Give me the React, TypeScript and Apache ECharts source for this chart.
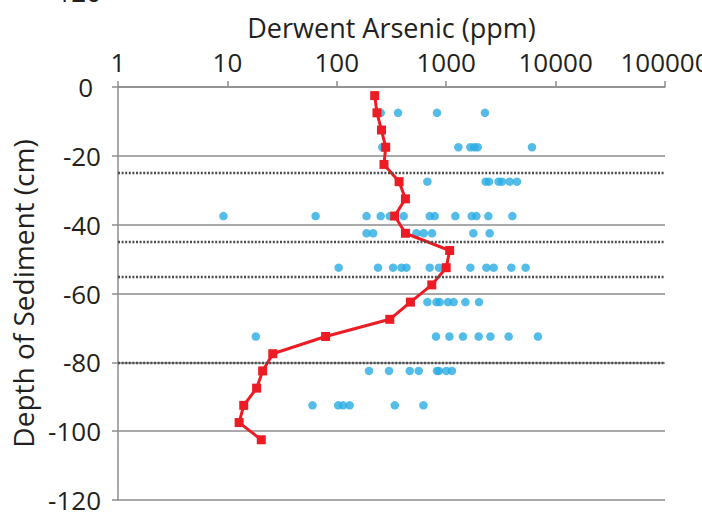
import React, { useEffect, useRef } from "react";
import * as echarts from "echarts";

// Depth-averaged arsenic profile (red line), one value every 5 cm
const profileDepths = [
  -2.5, -7.5, -12.5, -17.5, -22.5, -27.5, -32.5, -37.5, -42.5, -47.5, -52.5,
  -57.5, -62.5, -67.5, -72.5, -77.5, -82.5, -87.5, -92.5, -97.5, -102.5,
];
const profileArsenic = [
  222, 233, 256, 280, 270, 371, 424, 338, 424, 1076, 1000, 738, 471, 305, 79,
  26, 21, 18.5, 14.1, 12.8, 20.4,
];

// Individual core samples (blue dots), grouped by depth
const sampleDepths = [-7.5, -17.5, -27.5, -37.5, -42.5, -52.5, -62.5, -72.5, -82.5, -92.5];
const samplesAt7 = [252, 363, 824, 2261];
const samplesAt17 = [261, 1292, 1663, 1808, 1940, 6081];
const samplesAt27 = [673, 2296, 2461, 3016, 3236, 3802, 4435];
const samplesAt37 = [9.2, 64, 187, 252, 305, 409, 707, 785, 1213, 1710, 1888, 2428, 4024];
const samplesAt42 = [187, 215, 534, 623, 742, 1771, 2495];
const samplesAt52 = [104, 238, 327, 390, 433, 707, 859, 1663, 2329, 2716, 3939, 5322];
const samplesAt62 = [673, 814, 872, 1038, 1170, 1497, 1994];
const samplesAt72 = [18.2, 807, 1070, 1423, 1980, 2535, 3722, 6893];
const samplesAt82 = [197, 300, 464, 561, 824, 859, 1004, 1129];
const samplesAt92 = [60, 103, 114, 131, 339, 619];
const sampleRows = [
  samplesAt7, samplesAt17, samplesAt27, samplesAt37, samplesAt42,
  samplesAt52, samplesAt62, samplesAt72, samplesAt82, samplesAt92,
];

// Stratigraphic boundaries (dotted lines)
const boundaryDepths = [-25, -45, -55, -80];

const FONT = '"Open Sans", "Noto Sans", sans-serif';
const TEXT = "#231f20";
const GRID = "#8c8c8c";

export default function App() {
  const ref = useRef<HTMLDivElement>(null);

  useEffect(() => {
    if (!ref.current) return;
    const chart = echarts.init(ref.current, null, { renderer: "svg" });

    const samplePoints = sampleDepths.flatMap((d, i) => sampleRows[i].map((v) => [v, d]));
    const profilePoints = profileDepths.map((d, i) => [profileArsenic[i], d]);

    chart.setOption({
      animation: false,
      textStyle: { fontFamily: FONT },
      grid: { left: 118, right: 37, top: 87, bottom: 15, outerBoundsMode: "none" },
      graphic: [
        {
          type: "text",
          x: 101,
          y: 5,
          style: {
            text: "-120",
            fontFamily: FONT,
            fontSize: 26,
            fill: TEXT,
            textAlign: "right",
            textVerticalAlign: "bottom",
          },
        },
      ],
      xAxis: {
        type: "log",
        logBase: 10,
        min: 1,
        max: 100000,
        position: "top",
        name: "Derwent Arsenic (ppm)",
        nameLocation: "middle",
        nameGap: 46,
        nameTextStyle: { fontSize: 27, color: TEXT, fontFamily: FONT },
        axisLine: { lineStyle: { color: GRID, width: 1.5 } },
        axisTick: { length: 6, lineStyle: { color: GRID, width: 1.5 } },
        axisLabel: {
          fontSize: 26,
          color: TEXT,
          fontFamily: FONT,
          margin: 12,
          formatter: (v: number) => String(Math.round(v)),
        },
        splitLine: { show: false },
        minorTick: { show: false },
      },
      yAxis: {
        type: "value",
        min: -120,
        max: 0,
        interval: 20,
        name: "Depth of Sediment (cm)",
        nameLocation: "middle",
        nameGap: 80,
        nameTextStyle: { fontSize: 28, color: TEXT, fontFamily: FONT },
        axisLine: { show: true, lineStyle: { color: GRID, width: 1.5 } },
        axisTick: { show: true, length: 6, lineStyle: { color: GRID, width: 1.5 } },
        axisLabel: {
          fontSize: 26,
          color: TEXT,
          fontFamily: FONT,
          margin: 17,
          formatter: (v: number) => (v === 0 ? "{zero|0}" : String(v)),
          rich: {
            zero: { fontSize: 26, color: TEXT, fontFamily: FONT, padding: [0, 8, 0, 0] },
          },
        },
        splitLine: { show: true, lineStyle: { color: GRID, width: 1.5 } },
      },
      series: [
        {
          type: "scatter",
          data: samplePoints,
          symbol: "circle",
          symbolSize: 8.5,
          itemStyle: { color: "#29abe2" },
          z: 3,
          markLine: {
            silent: true,
            symbol: ["none", "none"],
            label: { show: false },
            lineStyle: { type: [2, 1.6], color: "#4d4d4d", width: 2.3 },
            data: boundaryDepths.map((d) => ({ yAxis: d })),
          },
        },
        {
          type: "line",
          data: profilePoints,
          symbol: "rect",
          symbolSize: 9,
          lineStyle: { color: "#ed1c24", width: 3 },
          itemStyle: { color: "#ed1c24" },
          z: 4,
        },
      ],
    });

    return () => chart.dispose();
  }, []);

  return (
    <div
      ref={ref}
      style={{ position: "fixed", left: 0, top: 0, width: 702, height: 515, background: "#fff" }}
    />
  );
}
